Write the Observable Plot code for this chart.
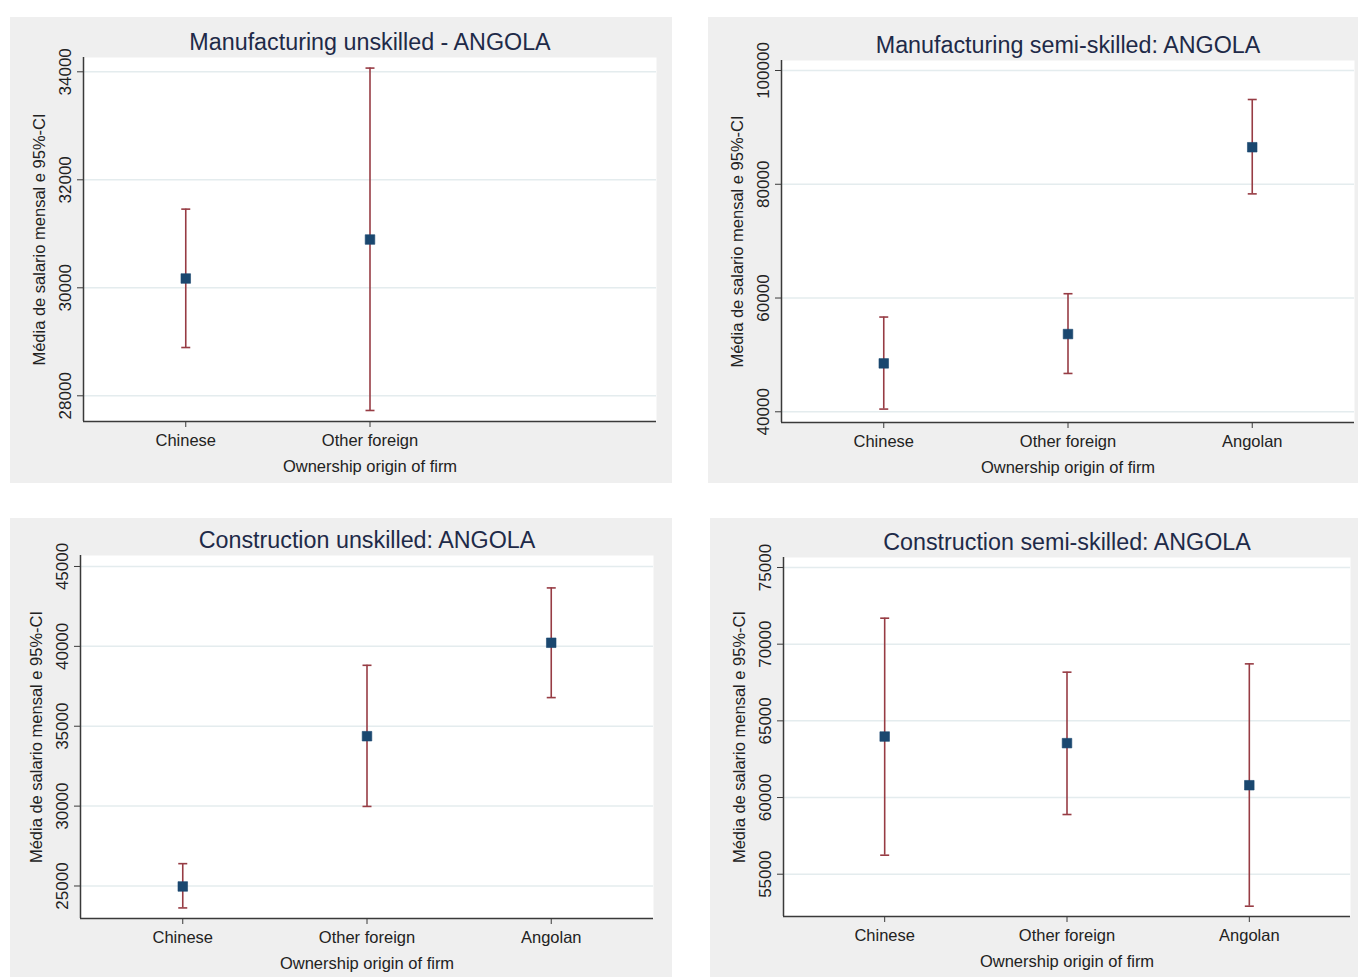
<!DOCTYPE html>
<html>
<head>
<meta charset="utf-8">
<script src="https://cdn.jsdelivr.net/npm/d3@7"></script>
<script src="https://cdn.jsdelivr.net/npm/@observablehq/plot@0.6"></script>
<style>
  html, body { margin: 0; padding: 0; background: #ffffff; }
  body { width: 1358px; height: 977px; position: relative; overflow: hidden;
         font-family: "Liberation Sans", Arial, sans-serif; }
  .panel { position: absolute; background: #efefef; }
  .panel svg { display: block; }
</style>
</head>
<body>
<div id="p1" class="panel"></div>
<div id="p2" class="panel"></div>
<div id="p3" class="panel"></div>
<div id="p4" class="panel"></div>
<script>
// ---------- data ----------
const categories = ["Chinese", "Other foreign", "Angolan"];
const yLabel = "Média de salario mensal e 95%-CI";
const xLabel = "Ownership origin of firm";

const mfgUnskilledTitle = "Manufacturing unskilled - ANGOLA";
const mfgUnskilledMean = [30172, 30894];
const mfgUnskilledLo   = [28894, 27728];
const mfgUnskilledHi   = [31457, 34069];
const mfgUnskilledTicks = [28000, 30000, 32000, 34000];

const mfgSemiTitle = "Manufacturing semi-skilled: ANGOLA";
const mfgSemiMean = [48510, 53666, 86510];
const mfgSemiLo   = [40475, 46739, 78311];
const mfgSemiHi   = [56657, 60757, 94903];
const mfgSemiTicks = [40000, 60000, 80000, 100000];

const conUnskilledTitle = "Construction unskilled: ANGOLA";
const conUnskilledMean = [24970, 34376, 40225];
const conUnskilledLo   = [23627, 29980, 36792];
const conUnskilledHi   = [26398, 38814, 43658];
const conUnskilledTicks = [25000, 30000, 35000, 40000, 45000];

const conSemiTitle = "Construction semi-skilled: ANGOLA";
const conSemiMean = [63977, 63546, 60802];
const conSemiLo   = [56239, 58892, 52914];
const conSemiHi   = [71695, 68175, 68716];
const conSemiTicks = [55000, 60000, 65000, 70000, 75000];

// ---------- layout ----------
const xDomain = [0.445, 3.555];
const layouts = {
  p1: {left: 10,  top: 17,  width: 662, height: 466, mL: 73, mR: 16, mT: 40, mB: 62, yDomain: [27524, 34265]},
  p2: {left: 708, top: 17,  width: 650, height: 466, mL: 73, mR: 4,  mT: 43, mB: 61, yDomain: [38117, 101760]},
  p3: {left: 10,  top: 518, width: 662, height: 459, mL: 70, mR: 19, mT: 37, mB: 59, yDomain: [22965, 45687]},
  p4: {left: 710, top: 518, width: 648, height: 459, mL: 73, mR: 8,  mT: 39, mB: 61, yDomain: [52242, 75652]}
};

const FONT = '"Liberation Sans", Arial, sans-serif';
const ciColor = "#973c44";
const markerColor = "#1a476f";
const axisColor = "#3a3a3a";

const capSymbol = {
  draw(ctx) { ctx.moveTo(-4.5, 0); ctx.lineTo(4.5, 0); }
};

function drawPanel(id, title, means, los, his, ticks) {
  const L = layouts[id];
  const el = document.getElementById(id);
  el.style.left = L.left + "px";
  el.style.top = L.top + "px";
  el.style.width = L.width + "px";
  el.style.height = L.height + "px";

  const data = means.map((m, i) => ({x: i + 1, cat: categories[i], m, lo: los[i], hi: his[i]}));
  const xTicks = data.map(d => d.x);

  const chart = Plot.plot({
    width: L.width,
    height: L.height,
    marginLeft: L.mL, marginRight: L.mR, marginTop: L.mT, marginBottom: L.mB,
    style: {background: "#efefef", fontFamily: FONT, fontSize: "16.5px", color: "#222", overflow: "visible"},
    x: {domain: xDomain, axis: null},
    y: {domain: L.yDomain, axis: null},
    marks: [
      Plot.frame({fill: "#ffffff", stroke: "none"}),
      Plot.gridY(ticks, {stroke: "#e4ecee", strokeOpacity: 1, strokeWidth: 1.5}),
      Plot.ruleX([xDomain[0]], {stroke: axisColor, strokeWidth: 1.5}),
      Plot.ruleY([L.yDomain[0]], {stroke: axisColor, strokeWidth: 1.5}),
      Plot.axisY(ticks, {tickRotate: -90, tickSize: 6, tickPadding: 7, tickFormat: d => String(d),
                         label: null, fontSize: 17, stroke: axisColor, fill: "#222"}),
      Plot.axisX(xTicks, {tickFormat: i => categories[i - 1], tickSize: 6, tickPadding: 7,
                          label: null, fontSize: 16.5, stroke: axisColor, fill: "#222"}),
      Plot.ruleX(data, {x: "x", y1: "lo", y2: "hi", stroke: ciColor, strokeWidth: 1.6}),
      Plot.dot(data, {x: "x", y: "hi", symbol: capSymbol, r: 3, stroke: ciColor, strokeWidth: 1.6, fill: "none"}),
      Plot.dot(data, {x: "x", y: "lo", symbol: capSymbol, r: 3, stroke: ciColor, strokeWidth: 1.6, fill: "none"}),
      Plot.dot(data, {x: "x", y: "m", symbol: "square", r: 5.4, fill: markerColor, stroke: markerColor, strokeWidth: 0.6}),
      Plot.text([title], {frameAnchor: "top", dy: -15, textAnchor: "middle", lineAnchor: "middle",
                          fontSize: 23.3, fill: "#1e2a48"}),
      Plot.text([yLabel], {frameAnchor: "left", dx: -44, rotate: -90, textAnchor: "middle", lineAnchor: "middle",
                           fontSize: 16.5, fill: "#222"}),
      Plot.text([xLabel], {frameAnchor: "bottom", dy: 45, textAnchor: "middle", lineAnchor: "middle",
                           fontSize: 16.5, fill: "#222"})
    ]
  });
  el.appendChild(chart);
}

drawPanel("p1", mfgUnskilledTitle, mfgUnskilledMean, mfgUnskilledLo, mfgUnskilledHi, mfgUnskilledTicks);
drawPanel("p2", mfgSemiTitle, mfgSemiMean, mfgSemiLo, mfgSemiHi, mfgSemiTicks);
drawPanel("p3", conUnskilledTitle, conUnskilledMean, conUnskilledLo, conUnskilledHi, conUnskilledTicks);
drawPanel("p4", conSemiTitle, conSemiMean, conSemiLo, conSemiHi, conSemiTicks);
</script>
</body>
</html>
